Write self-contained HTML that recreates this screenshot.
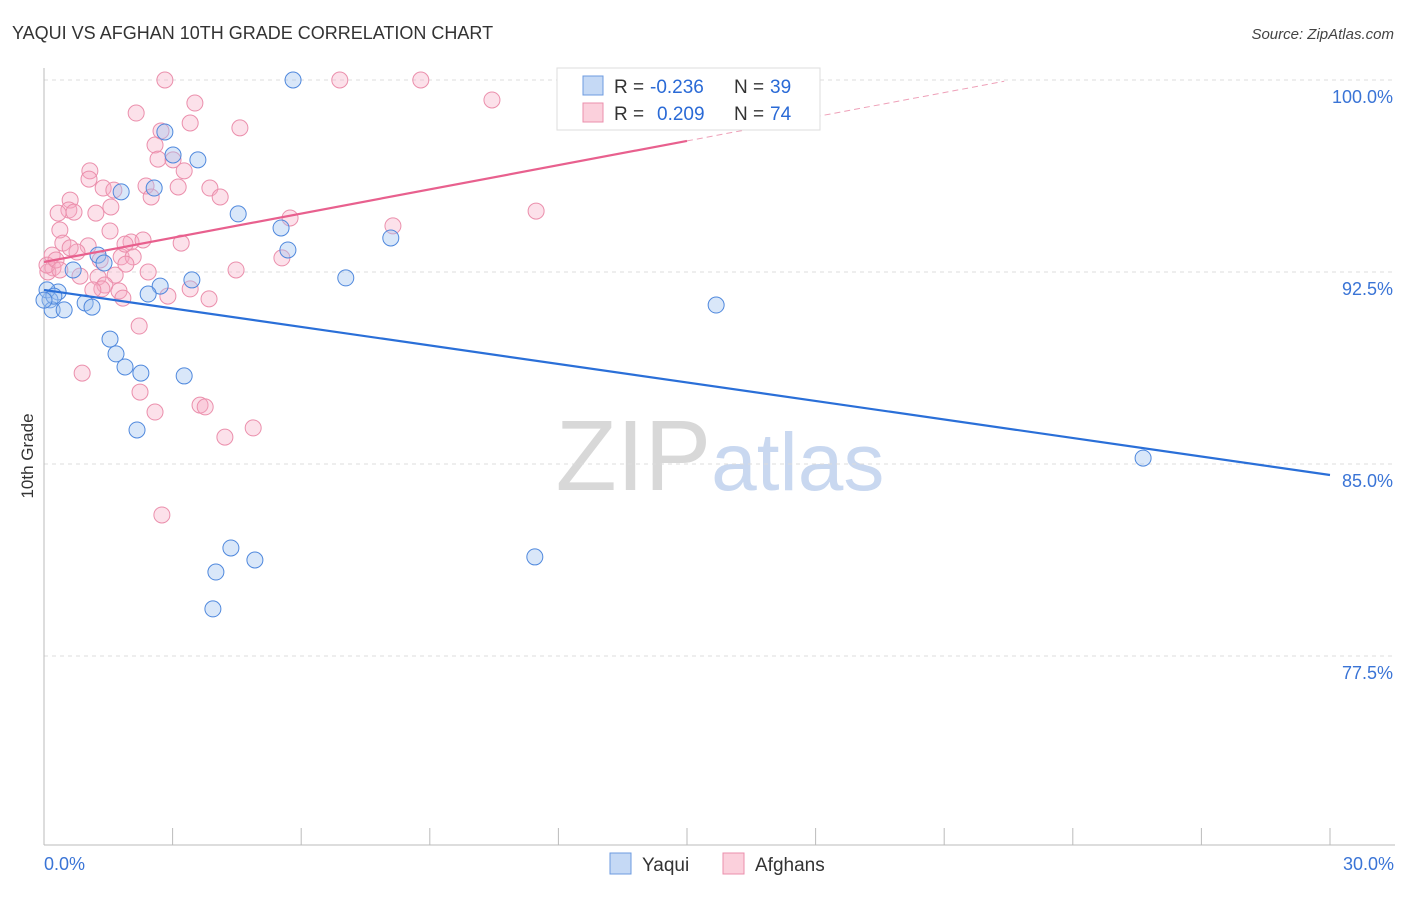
<!DOCTYPE html>
<html><head><meta charset="utf-8"><style>
body{margin:0;background:#fff;font-family:"Liberation Sans",sans-serif}
svg text{font-family:"Liberation Sans",sans-serif}
</style></head><body>
<svg id="c" width="1406" height="892" xmlns="http://www.w3.org/2000/svg">
<text x="12" y="39" font-size="18" fill="#333">YAQUI VS AFGHAN 10TH GRADE CORRELATION CHART</text>
<text x="1394" y="39" font-size="15" fill="#444" text-anchor="end" font-style="italic">Source: ZipAtlas.com</text>
<text x="720" y="490" font-size="100" text-anchor="middle" fill="#d8d8d8" font-family="Liberation Serif">ZIP<tspan fill="#c9d8f0" font-family="Liberation Sans" font-size="82">atlas</tspan></text>
<g id="grid"></g><g id="axes"></g><g id="pts"></g><g id="lines"></g>
<text transform="translate(33,456) rotate(-90)" font-size="17" fill="#333" text-anchor="middle">10th Grade</text>
<g>
<rect x="557" y="68" width="263" height="62" fill="#fff" stroke="#ddd"/>
<rect x="583" y="76" width="20" height="19" fill="#c5d9f5" stroke="#6d9be0"/>
<rect x="583" y="103" width="20" height="19" fill="#fbd0dc" stroke="#eb8fac"/>
<text x="614" y="93" font-size="19" fill="#333">R =</text>
<text x="650" y="93" font-size="19" fill="#2a6ad6">-0.236</text>
<text x="734" y="93" font-size="19" fill="#333">N =</text>
<text x="770" y="93" font-size="19" fill="#2a6ad6">39</text>
<text x="614" y="120" font-size="19" fill="#333">R =</text>
<text x="657" y="120" font-size="19" fill="#2a6ad6">0.209</text>
<text x="734" y="120" font-size="19" fill="#333">N =</text>
<text x="770" y="120" font-size="19" fill="#2a6ad6">74</text>
</g>
<g>
<rect x="610" y="853" width="21" height="21" fill="#c5d9f5" stroke="#6d9be0"/>
<text x="642" y="871" font-size="19" fill="#333">Yaqui</text>
<rect x="723" y="853" width="21" height="21" fill="#fbd0dc" stroke="#eb8fac"/>
<text x="755" y="871" font-size="19" fill="#333">Afghans</text>
</g>
</svg>
<script>
const yaquiX=[5.81,2.82,3.01,3.59,1.80,2.57,4.53,5.53,5.69,8.09,7.04,1.26,1.40,0.68,3.45,2.71,2.43,0.33,0.14,0.19,0.47,0.96,1.12,1.54,1.68,1.89,2.26,3.27,2.17,4.36,4.01,4.92,3.94,11.45,15.68,25.64,0.07,0.23,0.0];
const yaquiY=[100,97.97,97.07,96.88,95.63,95.78,94.77,94.22,93.36,93.83,92.27,93.16,92.85,92.58,92.19,91.95,91.64,91.72,91.41,91.02,91.02,91.29,91.13,89.88,89.30,88.79,88.55,88.44,86.33,81.72,80.78,81.25,79.34,81.37,91.21,85.23,91.80,91.56,91.4];
const afgX=[2.82,6.90,8.79,3.52,2.15,10.45,3.41,2.73,4.57,2.59,2.66,3.01,1.07,1.05,3.27,2.38,1.38,1.63,3.13,3.87,2.50,4.11,1.56,0.61,0.58,0.33,1.21,0.70,5.74,11.48,8.14,0.37,1.54,0.44,1.03,2.03,2.31,3.20,0.19,0.77,1.80,2.08,1.91,2.43,4.48,5.55,0.21,0.84,1.26,1.66,1.42,1.35,1.75,3.41,2.89,3.85,1.84,1.14,2.22,0.89,2.24,2.59,3.64,3.76,4.22,4.88,2.75,0.09,0.07,0.28,0.61,1.31,1.89,0.37];
const afgY=[100,100,100,99.10,98.71,99.22,98.32,98.01,98.13,97.46,96.91,96.88,96.45,96.13,96.45,95.86,95.78,95.70,95.82,95.78,95.43,95.43,95.04,95.31,94.92,94.80,94.80,94.84,94.61,94.88,94.30,94.14,94.10,93.63,93.52,93.67,93.75,93.63,93.16,93.28,93.09,93.09,92.81,92.50,92.58,93.05,92.66,92.34,92.30,92.38,91.99,91.84,91.76,91.84,91.56,91.45,91.48,91.80,90.39,88.55,87.81,87.03,87.30,87.23,86.05,86.41,83.01,92.50,92.77,92.97,93.44,92.97,93.59,92.58];
const yTicks=[100,92.5,85,77.5];
const xTickLabels=["0.0%","30.0%"];
const yaquiTrend=[91.80,84.57];
const afgTrend=[92.89,97.62,99.95];
const NS="http://www.w3.org/2000/svg";
const sx=v=>44+v*1286/30, sy=v=>80+(100-v)*25.6;
function mk(t,a,p){const e=document.createElementNS(NS,t);for(const k in a)e.setAttribute(k,a[k]);document.getElementById(p).appendChild(e);return e;}
yTicks.forEach(t=>{
 const l=mk('line',{x1:44,x2:1395,y1:sy(t),y2:sy(t),stroke:'#ddd','stroke-dasharray':'4,4'},'grid');
 
 
 const tx=mk('text',{x:1393,y:sy(t)+23,'font-size':18,fill:'#3a74d6','text-anchor':'end'},'grid');tx.textContent=t.toFixed(1)+'%';
 
 
});
const ax=mk('line',{x1:44,x2:44,y1:68,y2:845,stroke:'#bbb'},'axes');


const bx=mk('line',{x1:44,x2:1395,y1:845,y2:845,stroke:'#bbb'},'axes');


for(let i=0;i<=10;i++){const t=mk('line',{x1:sx(i*3),x2:sx(i*3),y1:828,y2:845,stroke:'#bbb'},'axes');
 
 }
[[0,'start',xTickLabels[0]],[30,'end',xTickLabels[1]]].forEach(([v,a,s])=>{const t=mk('text',{x:v==0?44:1394,y:870,'font-size':18,fill:'#3a74d6','text-anchor':a},'axes');t.textContent=s;
 
 });
afgX.forEach((x,i)=>{const c=mk('circle',{cx:sx(x),cy:sy(afgY[i]),r:8,fill:'rgba(247,170,195,0.35)',stroke:'#eb8fac','stroke-width':1},'pts');
 
 });
yaquiX.forEach((x,i)=>{const c=mk('circle',{cx:sx(x),cy:sy(yaquiY[i]),r:8,fill:'rgba(160,195,240,0.4)',stroke:'#4f88dd','stroke-width':1},'pts');
 
 });
const l1=mk('line',{x1:sx(0),y1:sy(yaquiTrend[0]),x2:sx(30),y2:sy(yaquiTrend[1]),stroke:'#2a6fd8','stroke-width':2.2},'lines');


const l2=mk('line',{x1:sx(0),y1:sy(afgTrend[0]),x2:sx(15),y2:sy(afgTrend[1]),stroke:'#e8608e','stroke-width':2.2},'lines');


const l3=mk('line',{x1:sx(15),y1:sy(afgTrend[1]),x2:sx(22.4),y2:sy(afgTrend[2]),stroke:'#eea0b8','stroke-width':1,'stroke-dasharray':'6,4'},'lines');


</script>
</body></html>
